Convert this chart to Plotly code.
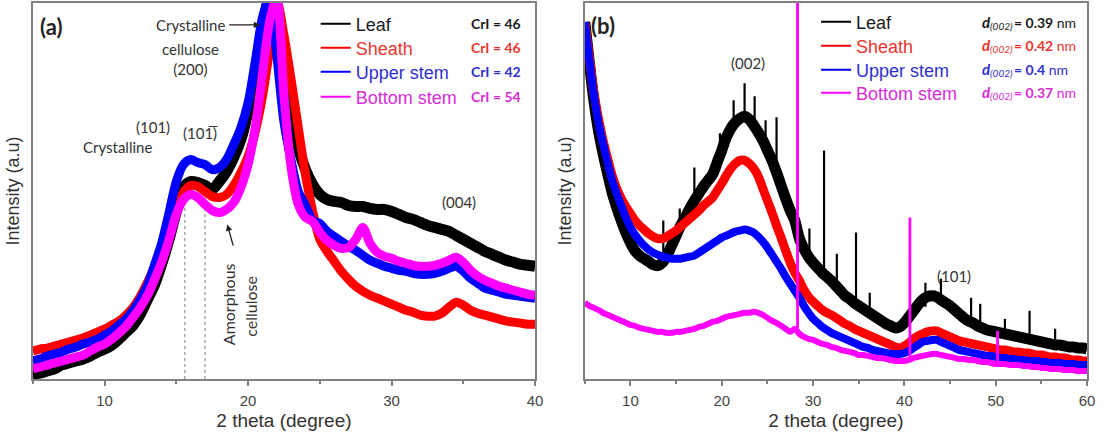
import numpy as np
import plotly.graph_objects as go

# ---------------------------------------------------------------
# XRD patterns (intensity in arbitrary units) of the four plant parts
# ---------------------------------------------------------------
series_names = ["Leaf", "Sheath", "Upper stem", "Bottom stem"]
series_colors = ["#000000", "#ff0000", "#0000ff", "#ff00ff"]
legend_text_colors = ["#1a1a1a", "#e8362e", "#2f2fd0", "#d82cd8"]

# (a) scan 5-40 deg, 0.5 deg steps
two_theta_a = np.arange(5.0, 40.01, 0.5)
leaf_a = [5, 6, 8, 10, 14, 16, 18, 20, 23, 27,
          30, 34, 40, 47, 54, 65, 80, 95, 116, 140,
          168, 192, 198, 197, 194, 190, 198, 208, 222, 240,
          268, 305, 352, 382, 348, 308, 268, 232, 210, 195,
          185, 180, 178, 177, 174, 173, 173, 171, 170, 170,
          168, 165, 162, 160, 157, 154, 152, 150, 148, 144,
          140, 136, 132, 128, 125, 122, 119, 117, 115, 114,
          113]
sheath_a = [28, 30, 31, 33, 35, 37, 39, 41, 44, 47,
            50, 54, 58, 64, 72, 83, 97, 113, 132, 152,
            170, 187, 194, 193, 188, 183, 182, 185, 194, 207,
            223, 248, 283, 330, 380, 345, 300, 252, 205, 168,
            140, 128, 118, 108, 100, 93, 88, 84, 81, 78,
            75, 72, 69, 67, 64, 63, 63, 66, 72, 77,
            74, 69, 66, 64, 62, 60, 58, 57, 56, 55,
            55]
upper_a = [18, 20, 23, 25, 27, 30, 32, 35, 37, 40,
           44, 48, 54, 60, 69, 80, 94, 115, 137, 167,
           198, 215, 220, 217, 215, 210, 212, 220, 235, 252,
           277, 318, 362, 382, 325, 258, 219, 188, 174, 159,
           156, 148, 143, 138, 133, 129, 124, 119, 116, 113,
           111, 109, 108, 106, 105, 105, 106, 108, 111, 113,
           108, 101, 96, 91, 89, 87, 85, 84, 83, 82,
           81]
bottom_a = [10, 12, 14, 16, 18, 20, 22, 24, 28, 32,
            35, 40, 46, 53, 62, 72, 84, 100, 118, 140,
            165, 180, 185, 182, 175, 169, 167, 170, 177, 192,
            215, 252, 305, 358, 382, 285, 212, 175, 162, 158,
            147, 139, 134, 131, 132, 140, 152, 136, 127, 123,
            121, 118, 116, 114, 113, 113, 114, 116, 119, 122,
            117, 109, 103, 99, 96, 93, 91, 89, 87, 85,
            84]

# (b) scan 5-60 deg, 0.5 deg steps
two_theta_b = np.arange(5.0, 60.01, 0.5)
leaf_b = [356, 316, 278, 248, 225, 205, 186, 171, 158, 146,
          136, 128, 123, 120, 117, 114, 113, 116, 123, 133,
          143, 153, 161, 170, 178, 185, 192, 198, 204, 216,
          228, 241, 250, 256, 260, 262, 259, 253, 246, 238,
          228, 218, 206, 193, 180, 168, 158, 140, 130, 122,
          116, 111, 106, 102, 98, 93, 88, 83, 80, 76,
          73, 70, 67, 64, 61, 58, 55, 53, 51, 52,
          56, 62, 68, 74, 79, 82, 83, 82, 79, 76,
          73, 69, 65, 61, 58, 56, 53, 51, 49, 48,
          47, 46, 45, 44, 43, 42, 41, 40, 39, 38,
          37, 36, 35, 34, 34, 33, 32, 32, 31, 31,
          30]
sheath_b = [356, 320, 286, 260, 238, 220, 203, 190, 180, 172,
            165, 158, 153, 149, 145, 142, 140, 140, 142, 145,
            148, 152, 156, 160, 164, 168, 173, 177, 181, 188,
            195, 203, 210, 215, 218, 218, 215, 210, 202, 190,
            178, 166, 153, 141, 128, 116, 106, 98, 89, 82,
            77, 73, 69, 66, 64, 61, 58, 55, 53, 50,
            48, 46, 44, 42, 40, 38, 36, 34, 32, 31,
            33, 36, 40, 43, 45, 47, 48, 48, 46, 44,
            42, 40, 38, 37, 36, 35, 34, 33, 32, 31,
            30, 29, 29, 28, 27, 27, 26, 26, 25, 24,
            24, 23, 22, 22, 21, 21, 20, 19, 19, 18,
            18]
upper_b = [356, 318, 283, 256, 235, 216, 198, 185, 173, 161,
           151, 144, 138, 133, 129, 126, 124, 122, 121, 120,
           120, 120, 121, 122, 123, 126, 129, 132, 135, 138,
           141, 143, 145, 147, 148, 149, 148, 146, 142, 137,
           131, 124, 117, 110, 102, 95, 88, 81, 73, 66,
           60, 56, 52, 49, 46, 44, 42, 40, 38, 36,
           34, 32, 31, 29, 28, 27, 26, 25, 25, 25,
           26, 28, 31, 34, 37, 38, 39, 39, 37, 35,
           33, 31, 29, 28, 27, 26, 25, 24, 23, 23,
           22, 21, 21, 20, 20, 19, 19, 18, 18, 18,
           17, 17, 16, 16, 16, 15, 15, 15, 14, 14,
           14]
bottom_b = [76, 73, 71, 69, 66, 64, 62, 60, 58, 56,
            54, 53, 51, 50, 49, 48, 47, 47, 46, 46,
            47, 47, 48, 49, 50, 52, 53, 55, 57, 58,
            60, 62, 63, 64, 65, 66, 66, 67, 66, 64,
            61, 58, 56, 53, 50, 47, 50, 45, 42, 40,
            39, 37, 35, 34, 32, 31, 29, 28, 27, 26,
            24, 24, 23, 22, 21, 21, 20, 19, 18, 18,
            18, 19, 21, 22, 23, 24, 25, 25, 24, 23,
            22, 21, 20, 20, 19, 19, 18, 17, 17, 16,
            15, 15, 15, 14, 14, 14, 13, 13, 12, 12,
            11, 11, 10, 10, 10, 9, 9, 9, 8, 8,
            8]

# sharp single-channel reflections in (b): position, foot, top
leaf_spike_x = [13.6, 15.4, 17.0, 19.8, 21.3, 22.5, 23.6, 24.8, 26.0, 29.6,
                31.2, 32.6, 34.7, 36.2, 42.3, 44.0, 47.3, 48.3, 51.0, 53.7, 56.5]
leaf_spike_foot = [115, 151, 176, 214, 252, 262, 252, 232, 206, 121,
                   110, 97, 75, 67, 72, 79, 58, 53, 45, 39, 34]
leaf_spike_top = [158, 170, 211, 245, 278, 295, 282, 258, 261, 150,
                  228, 125, 146, 86, 96, 100, 81, 75, 60, 68, 50]
bottom_spike_x = [28.3, 40.6, 50.2]
bottom_spike_foot = [50, 19, 15]
bottom_spike_top = [420, 161, 48]

crystallinity_index = [46, 46, 42, 54]
d_spacing_002 = ["0.39", "0.42", "0.4", "0.37"]

W, H = 1107, 435
FONT = "Liberation Sans, Arial, sans-serif"
NOTE_FONT = "Lato, Open Sans, sans-serif"
AX_GREY = "#808080"

series_a = [leaf_a, sheath_a, upper_a, bottom_a]
series_b = [leaf_b, sheath_b, upper_b, bottom_b]
widths_a = [11, 9, 9, 9]
widths_b = [11, 9, 8, 6]

fig = go.Figure()


def spike_path(xs, feet, tops):
    px, py = [], []
    for x, f, t in zip(xs, feet, tops):
        px += [x, x, None]
        py += [f, t, None]
    return px, py


smooth = dict(shape="spline", smoothing=0.8)
for i, name in enumerate(series_names):
    fig.add_trace(go.Scatter(x=two_theta_a, y=series_a[i], mode="lines",
                             line=dict(color=series_colors[i], width=widths_a[i], **smooth),
                             showlegend=False, xaxis="x", yaxis="y", name=name))
for i, name in enumerate(series_names):
    fig.add_trace(go.Scatter(x=two_theta_b, y=series_b[i], mode="lines",
                             line=dict(color=series_colors[i], width=widths_b[i], **smooth),
                             showlegend=False, xaxis="x2", yaxis="y2", name=name))
    if i == 0:
        sx, sy = spike_path(leaf_spike_x, leaf_spike_foot, leaf_spike_top)
        fig.add_trace(go.Scatter(x=sx, y=sy, mode="lines", showlegend=False,
                                 line=dict(color=series_colors[0], width=2.2),
                                 xaxis="x2", yaxis="y2", name="Leaf"))
sx, sy = spike_path(bottom_spike_x, bottom_spike_foot, bottom_spike_top)
fig.add_trace(go.Scatter(x=sx, y=sy, mode="lines", showlegend=False,
                         line=dict(color=series_colors[3], width=2.8),
                         xaxis="x2", yaxis="y2", name="Bottom stem"))

# one single-entry legend per row so each label keeps its own colour
legend_rows = {"a": (318, [24, 48, 72, 97]), "b": (822, [22, 46, 70, 93])}
layout_legends = {}
k = 1
for panel, (xa, ya) in (("a", ("x", "y")), ("b", ("x2", "y2"))):
    left_px, rows = legend_rows[panel]
    for i, name in enumerate(series_names):
        key = "legend" if k == 1 else f"legend{k}"
        fig.add_trace(go.Scatter(
            x=[None], y=[None], mode="lines",
            line=dict(color=series_colors[i], width=2),
            name=name, legend=key, xaxis=xa, yaxis=ya))
        layout_legends[key] = dict(
            x=left_px / W, y=1 - rows[i] / H, xanchor="left", yanchor="middle",
            bgcolor="rgba(0,0,0,0)", borderwidth=0,
            font=dict(family=FONT, size=18, color=legend_text_colors[i]))
        k += 1

dom_y = [1 - 379 / H, 1 - 3 / H]
axis_common = dict(showline=True, mirror=True, linecolor=AX_GREY, linewidth=2,
                   showgrid=False, zeroline=False)
xaxis_common = dict(axis_common, ticks="outside", ticklen=5, tickwidth=1.5,
                    tickcolor=AX_GREY, dtick=10, tick0=0, ticklabelstandoff=2,
                    minor=dict(ticks="outside", ticklen=3, dtick=5, tick0=0,
                               tickcolor=AX_GREY),
                    tickfont=dict(family=FONT, size=15, color="#444444"),
                    title=dict(text="2 theta (degree)",
                               font=dict(family=FONT, size=19, color="#333333"),
                               standoff=6))
yaxis_common = dict(axis_common, showticklabels=False, ticks="",
                    title=dict(text="Intensity (a.u)",
                               font=dict(family=FONT, size=18, color="#333333"),
                               standoff=6))

fig.update_layout(
    width=W, height=H,
    margin=dict(l=0, r=0, t=0, b=0),
    paper_bgcolor="white", plot_bgcolor="white",
    xaxis=dict(xaxis_common, domain=[33 / W, 539 / W], range=[5, 40], anchor="y"),
    yaxis=dict(yaxis_common, domain=dom_y, range=[0, 377], anchor="x"),
    xaxis2=dict(xaxis_common, domain=[589 / W, 1095 / W], range=[5, 60], anchor="y2"),
    yaxis2=dict(yaxis_common, domain=dom_y, range=[0, 375], anchor="x2"),
    showlegend=True,
    **layout_legends,
)

# guide lines marking the two (101) reflections
for xv in (15.6, 17.0):
    fig.add_shape(type="line", xref="x", yref="y", x0=xv, x1=xv, y0=0, y1=190,
                  line=dict(color="#777777", width=1, dash="dot"), layer="below")

note = dict(family=NOTE_FONT, size=15, color="#333333")
note_rot = dict(family=NOTE_FONT, size=16, color="#333333")
notes_a = [
    ("<b>(a)</b>", 6.25, 353, dict(family=NOTE_FONT, size=22, color="#222222"), 0),
    ("cellulose<br>(200)", 16.0, 321, note, 0),
    ("(101)", 13.4, 253, note, 0),
    ("(101\u0305)", 16.7, 247, note, 0),
    ("Crystalline", 10.9, 233, note, 0),
    ("Amorphous", 18.6, 75, note_rot, -90),
    ("(004)", 34.7, 177, note, 0),
]
for txt, xv, yv, fnt, ang in notes_a:
    fig.add_annotation(x=xv, y=yv, xref="x", yref="y", text=txt, showarrow=False,
                       font=fnt, textangle=ang, align="center")

# labels carrying arrows toward the features they name
fig.add_annotation(x=20.85, y=355, xref="x", yref="y", text="Crystalline",
                   ax=-70, ay=0, showarrow=True, arrowhead=2, arrowsize=1,
                   arrowwidth=1.3, arrowcolor="#222222", startstandoff=3, font=note)
fig.add_annotation(x=18.55, y=155, xref="x", yref="y", text="cellulose",
                   textangle=-90, ax=23, ay=82, showarrow=True, arrowhead=2,
                   arrowsize=1, arrowwidth=1.3, arrowcolor="#222222",
                   startstandoff=30, font=note_rot)

label_rows_a = [356, 332, 308, 283]
for i, ci in enumerate(crystallinity_index):
    fig.add_annotation(x=37.3, y=label_rows_a[i], xref="x", yref="y",
                       text=f"<b>CrI = {ci}</b>", showarrow=False,
                       font=dict(family=NOTE_FONT, size=14, color=legend_text_colors[i]))

notes_b = [
    ("<b>(b)</b>", 6.96, 353, dict(family=NOTE_FONT, size=22, color="#222222")),
    ("(002)", 22.9, 315, note),
    ("(101)", 45.4, 103, note),
]
for txt, xv, yv, fnt in notes_b:
    fig.add_annotation(x=xv, y=yv, xref="x2", yref="y2", text=txt, showarrow=False,
                       font=fnt)

# interplanar spacing labels: italic d, lowered (002) index, value
label_rows_b = [356, 333, 309, 286]
for i, dv in enumerate(d_spacing_002):
    col = legend_text_colors[i]
    parts = [
        ("<b><i>d</i></b>", 0, 0, 15),
        ("<i>(002)</i>", 8, -4, 10),
        (f"<b>= {dv}</b> nm", 32, 0, 14),
    ]
    for txt, dx, dy, fs in parts:
        fig.add_annotation(x=48.3, y=label_rows_b[i], xref="x2", yref="y2",
                           xanchor="left", xshift=dx, yshift=dy, text=txt,
                           showarrow=False,
                           font=dict(family=NOTE_FONT, size=fs, color=col))

fig.write_html("out.html")
